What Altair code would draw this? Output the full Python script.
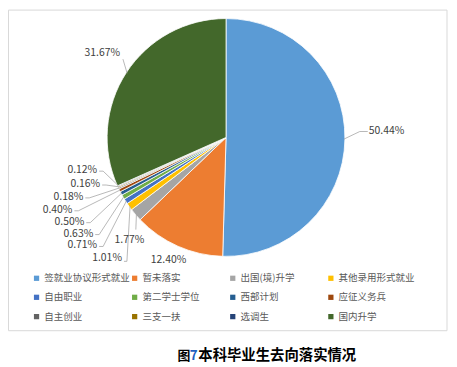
import math
import altair as alt
import pandas as pd

# ---------------- data ----------------
categories = ["签就业协议形式就业", "暂未落实", "出国(境)升学", "其他录用形式就业",
              "自由职业", "第二学士学位", "西部计划", "应征义务兵",
              "自主创业", "三支一扶", "选调生", "国内升学"]
values = [50.44, 12.40, 1.77, 1.01, 0.71, 0.63, 0.50, 0.40, 0.18, 0.16, 0.12, 31.67]
labels = [f"{v:.2f}%" for v in values]

caption_parts = ["图", "7", "本科毕业生去向落实情况"]

# ---------------- style / layout ----------------
colors = ["#5B9BD5", "#ED7D31", "#A5A5A5", "#FFC000", "#4472C4", "#70AD47",
          "#255E91", "#9E480E", "#636363", "#997300", "#264478", "#43682B"]
M = 8  # page margin
CX, CY, R = 228 - M, 137 - M, 120
FONT = "Noto Sans CJK SC"

# label anchor (page coords) and alignment
label_layout = [(372, 131, "left"), (170, 261, "center"), (130.5, 240, "center"),
                (123, 259, "right"), (98, 246, "right"), (94, 234, "right"),
                (85, 222, "right"), (73, 210, "right"), (84, 197, "right"),
                (101, 184, "right"), (98, 170, "right"), (121, 52, "right")]
# leader line points before reaching the slice edge (page coords)
leader_layout = [[(371, 131), (363, 131)], [], [(137, 230)],
                 [(125, 262), (128, 262)], [(100, 247), (104, 247)],
                 [(96, 235), (100, 235)], [(87, 223), (91, 223)],
                 [(75, 211), (79, 211)], [(86, 198), (90, 198)],
                 [(103, 185), (107, 185)], [(100, 171), (104, 171)],
                 [(124, 58)]]

# ---------------- tables ----------------
pie_df = pd.DataFrame({"cat": categories, "value": values, "idx": list(range(len(values)))})

total = sum(values)
rows = []
cum = 0.0
for i, v in enumerate(values):
    mid = (cum + v / 2) / total * 2 * math.pi
    cum += v
    pts = leader_layout[i]
    if not pts:
        continue
    ex = CX + (R - 1) * math.sin(mid)
    ey = CY - (R - 1) * math.cos(mid)
    seq = 0
    for (px, py) in pts:
        rows.append({"label": labels[i], "seq": seq, "x": px - M, "y": py - M})
        seq += 1
    rows.append({"label": labels[i], "seq": seq, "x": ex, "y": ey})
lead_df = pd.DataFrame(rows)

lab_df = pd.DataFrame({
    "label": labels,
    "x": [p[0] - M for p in label_layout],
    "y": [p[1] - M for p in label_layout],
    "align": [p[2] for p in label_layout],
})

# ---------------- marks ----------------
frame = alt.Chart(pd.DataFrame({"a": [0]})).mark_rect(
    fillOpacity=0, stroke="#D9D9D9", strokeWidth=1
).encode(x=alt.value(0.5), x2=alt.value(443), y=alt.value(0.5), y2=alt.value(324))

pie = alt.Chart(pie_df).mark_arc(outerRadius=R, stroke="white", strokeWidth=0.8).encode(
    theta=alt.Theta("value:Q", stack=True),
    order=alt.Order("idx:Q"),
    color=alt.Color(
        "cat:N",
        scale=alt.Scale(domain=categories, range=colors),
        sort=categories,
        legend=alt.Legend(
            title=None, orient="none", legendX=24, legendY=266, columns=4,
            direction="horizontal", gridAlign="all", columnPadding=-7, rowPadding=8.5,
            symbolType="square", symbolSize=28, symbolStrokeWidth=0, labelOffset=3,
            labelFont=FONT, labelFontSize=9.6, labelColor="#595959", padding=0,
        ),
    ),
    x=alt.value(CX),
    y=alt.value(CY),
)

leaders = alt.Chart(lead_df).mark_line(color="#A6A6A6", strokeWidth=0.8).encode(
    x=alt.X("x:Q", scale=None), y=alt.Y("y:Q", scale=None),
    detail="label:N", order="seq:Q",
)

texts = []
for a in ["left", "center", "right"]:
    texts.append(
        alt.Chart(lab_df).transform_filter(alt.datum.align == a).mark_text(
            align=a, baseline="middle", font=FONT, fontSize=10.5, color="#404040"
        ).encode(x=alt.X("x:Q", scale=None), y=alt.Y("y:Q", scale=None), text="label:N")
    )

cap_df = pd.DataFrame({
    "t": caption_parts,
    "x": [179 - M, 191.5 - M, 200 - M],
    "y": [358 - M] * 3,
    "s": [13, 13.5, 14.5],
    "c": ["#000000", "#1F5FBF", "#000000"],
})
caption = alt.Chart(cap_df).mark_text(
    align="left", baseline="middle", font=FONT, fontWeight="bold"
).encode(
    x=alt.X("x:Q", scale=None), y=alt.Y("y:Q", scale=None), text="t:N",
    size=alt.Size("s:Q", scale=None),
    color=alt.Color("c:N", scale=None),
)

chart = alt.layer(frame, pie, leaders, *texts, caption).properties(
    width=445, height=359, autosize="none", padding=0
).configure_view(stroke=None)

chart.save("out.html", embed_options={"renderer": "svg", "actions": False})
